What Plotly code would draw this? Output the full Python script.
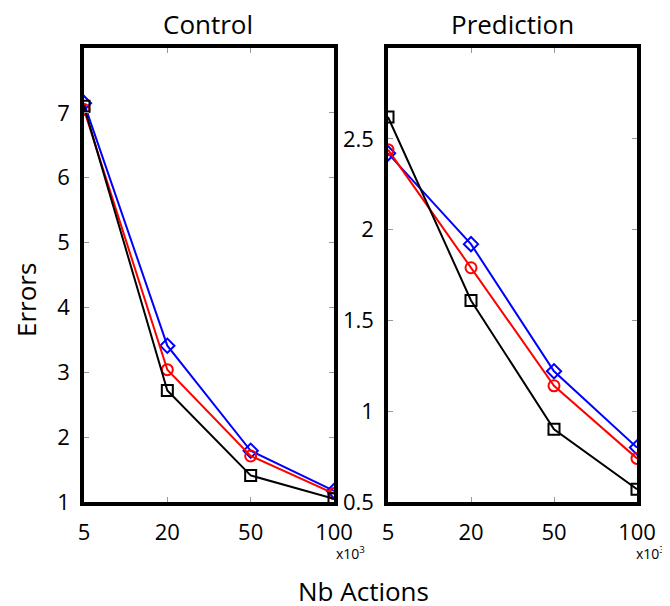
import plotly.graph_objects as go

actions = ["5", "20", "50", "100"]

control_blue = [7.15, 3.41, 1.79, 1.17]
control_red = [7.05, 3.04, 1.71, 1.13]
control_black = [7.10, 2.72, 1.41, 1.05]

pred_blue = [2.42, 1.92, 1.22, 0.80]
pred_red = [2.44, 1.79, 1.14, 0.74]
pred_black = [2.62, 1.61, 0.90, 0.57]

control_yticks = [1, 2, 3, 4, 5, 6, 7]
pred_yticks = [0.5, 1, 1.5, 2, 2.5]
pred_yticklabels = ["0.5", "1", "1.5", "2", "2.5"]

FONT = "Open Sans"
OFF = 8  # page body margin
W, H = 670 - OFF, 606 - OFF

fig = go.Figure()

series = [
    ("blue", "diamond-open"),
    ("red", "circle-open"),
    ("black", "square-open"),
]

for vals, (col, sym) in zip([control_blue, control_red, control_black], series):
    fig.add_trace(go.Scatter(x=actions, y=vals, xaxis="x", yaxis="y",
                             mode="lines+markers",
                             line=dict(color=col, width=2),
                             marker=dict(symbol=sym, size=11, color=col,
                                         line=dict(color=col, width=2)),
                             showlegend=False))
for vals, (col, sym) in zip([pred_blue, pred_red, pred_black], series):
    fig.add_trace(go.Scatter(x=actions, y=vals, xaxis="x2", yaxis="y2",
                             mode="lines+markers",
                             line=dict(color=col, width=2),
                             marker=dict(symbol=sym, size=11, color=col,
                                         line=dict(color=col, width=2)),
                             showlegend=False))

def px_x(p):
    return (p - OFF) / W

def px_y(p):
    return 1 - (p - OFF) / H

axis_common = dict(showline=True, linecolor="black", linewidth=3.5, mirror="ticks",
                   ticks="inside", ticklen=5, tickcolor="#999999", tickwidth=1,
                   showgrid=False, zeroline=False, automargin=False,
                   tickfont=dict(family=FONT, size=22, color="black"))

fig.update_layout(
    width=W, height=H,
    margin=dict(l=0, r=0, t=0, b=0),
    paper_bgcolor="white", plot_bgcolor="white",
    xaxis=dict(domain=[px_x(84), px_x(334)], anchor="y", type="category",
               range=[0, 3], ticklabelstandoff=8, **axis_common),
    yaxis=dict(domain=[px_y(502), px_y(48)], anchor="x", range=[1, 8],
               tickvals=control_yticks, ticklabelstandoff=6, **axis_common),
    xaxis2=dict(domain=[px_x(388), px_x(637)], anchor="y2", type="category",
                range=[0, 3], ticklabelstandoff=8, **axis_common),
    yaxis2=dict(domain=[px_y(502), px_y(48)], anchor="x2", range=[0.5, 3],
                tickvals=pred_yticks, ticktext=pred_yticklabels,
                ticklabelstandoff=6, **axis_common),
)

ann = [
    dict(text="Control", x=px_x(208), y=px_y(24), size=26),
    dict(text="Prediction", x=px_x(512), y=px_y(24), size=26),
    dict(text="Nb Actions", x=px_x(363), y=px_y(591), size=26),
    dict(text="x10<sup>3</sup>", x=px_x(350), y=px_y(553), size=14),
    dict(text="x10<sup>3</sup>", x=px_x(650), y=px_y(553), size=14),
]
for a in ann:
    fig.add_annotation(text=a["text"], x=a["x"], y=a["y"], xref="paper", yref="paper",
                       xanchor="center", yanchor="middle", showarrow=False,
                       font=dict(family=FONT, size=a["size"], color="black"))
fig.add_annotation(text="Errors", x=px_x(26), y=px_y(300), xref="paper", yref="paper",
                   xanchor="center", yanchor="middle", showarrow=False, textangle=-90,
                   font=dict(family=FONT, size=26, color="black"))

fig.write_html("out.html")
